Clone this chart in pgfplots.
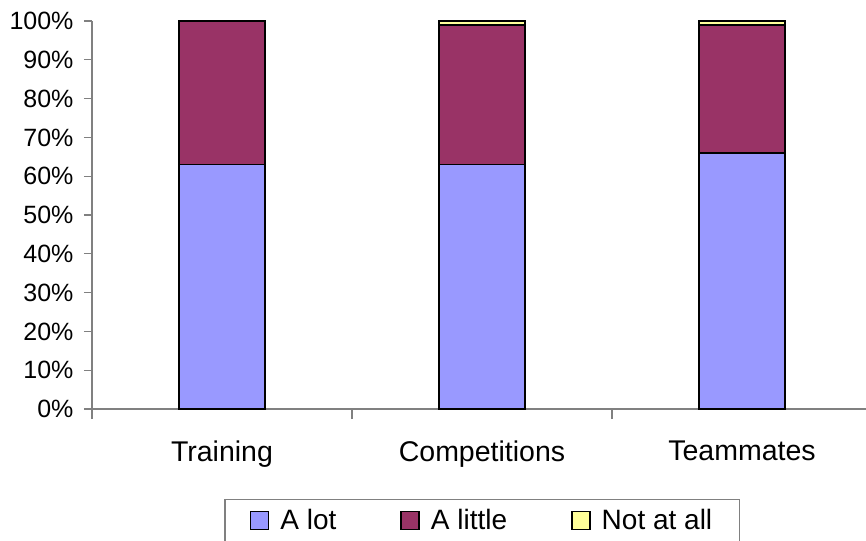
\documentclass[border=0pt]{standalone}
\usepackage{pgfplots}
\pgfplotsset{compat=1.18}
\usepackage{fontspec}
\setmainfont{Liberation Sans}
\definecolor{alot}{HTML}{9999FF}
\definecolor{alittle}{HTML}{993366}
\definecolor{notatall}{HTML}{FFFF99}
\definecolor{axgray}{HTML}{808080}
\begin{document}
\begin{tikzpicture}
\begin{axis}[
  at={(0pt,0pt)}, anchor=south west,
  scale only axis,
  width=774pt, height=388pt,
  xmin=-0.5, xmax=2.477,
  ymin=0, ymax=100,
  ybar stacked,
  bar width=86pt,
  axis x line*=bottom, axis y line*=left,
  axis line style={draw=axgray, line width=1.3pt, -},
  xtick={0,1,2},
  xticklabels={Training,Competitions,Teammates},
  major x tick style={draw=none},
  minor xtick={-0.5,0.5,1.5},
  minor x tick style={draw=axgray, line width=1.3pt},
  minor tick length=10pt,
  ytick={0,10,...,100},
  major y tick style={draw=axgray, line width=1.3pt},
  major tick length=8pt,
  tick align=outside,
  yticklabel={\pgfmathprintnumber{\tick}\%},
  /pgf/number format/assume math mode=true,
  yticklabel style={font=\fontsize{25}{29}\selectfont, xshift=-7pt},
  xticklabel style={font=\fontsize{28.5}{32}\selectfont, yshift=-20pt},
  legend style={at={(0.504,-0.232)}, anchor=north, legend columns=3,
    draw=axgray, line width=1.3pt,
    font=\fontsize{28}{32}\selectfont,
    inner xsep=25pt, inner ysep=8pt,
    /tikz/every even column/.append style={column sep=62pt}},
  legend cell align=left,
  legend image code/.code={\draw[#1,draw=black,line width=1.5pt] (0pt,-9pt) rectangle (18pt,9pt);\path (27pt,0pt);},
  every axis plot/.append style={draw=black, line width=1.5pt},
]
\addplot[fill=alot] coordinates {(0,63) (1,63) (2,66)};
\addlegendentry{A lot}
\addplot[fill=alittle] coordinates {(0,37) (1,36) (2,33)};
\addlegendentry{A little}
\addplot[fill=notatall] coordinates {(0,0) (1,1) (2,1)};
\addlegendentry{Not at all}
\end{axis}
\pgfresetboundingbox
\path[use as bounding box] (-92pt,-131pt) rectangle (774pt,409pt);
\end{tikzpicture}
\end{document}
